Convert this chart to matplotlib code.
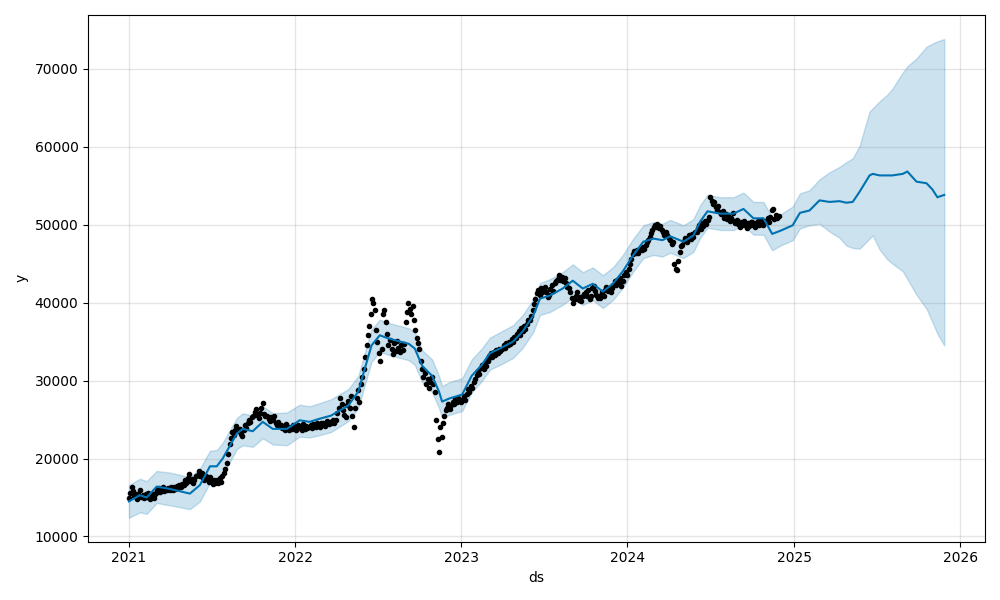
import pandas as pd
import numpy as np
import matplotlib
matplotlib.use("Agg")
import matplotlib.pyplot as plt

# observed points: ten readings per month (every 3 days from the 1st), Jan 2021 - Nov 2024
obs_months = pd.date_range("2021-01-01", "2024-11-01", freq="MS")
obs_days = [0, 3, 6, 9, 12, 15, 18, 21, 24, 27]
obs_y = [
    # 2021
    15000, 15600, 16300, 15800, 15200, 15500, 14800, 15400, 15900, 15100,
    15300, 14900, 15400, 15100, 15600, 14800, 15200, 15500, 15000, 15400,
    15600, 15900, 16200, 15700, 16000, 16300, 15800, 16100, 15900, 16200,
    16000, 16400, 15900, 16300, 16100, 16500, 16200, 16600, 16300, 16700,
    16600, 17200, 16900, 17500, 18000, 17100, 17400, 16800, 17300, 17700,
    17900, 18400, 17700, 18100, 17500, 17200, 17800, 17400, 17000, 17600,
    17100, 16700, 17300, 16900, 17200, 16800, 17500, 17000, 17700, 18200,
    18600, 19400, 20600, 21800, 22600, 23400, 23000, 23700, 24200, 23500,
    23800, 23200, 22900, 23600, 24300, 23900, 24500, 25000, 24700, 25300,
    25500, 25900, 26300, 25600, 25200, 25800, 26500, 27100, 25700, 25400,
    25500, 25100, 24800, 25300, 24900, 25400, 24600, 24300, 24700, 24200,
    24300, 23900, 24200, 23700, 24400, 24000, 23600, 24100, 23800, 24300,
    # 2022
    24000, 23600, 24300, 23900, 24100, 23700, 24400, 23800, 24200, 23900,
    24100, 24300, 23900, 24400, 24200, 24000, 24500, 24300, 24100, 24600,
    24300, 24600, 24200, 24500, 24800, 24400, 24700, 24500, 25000, 24600,
    25000, 25800, 26500, 27800, 27000, 26200, 25600, 25300, 26800, 27400,
    26500, 28000, 25500, 24000, 26500, 27800, 28800, 27200, 29500, 30500,
    31500, 33000, 34500, 35800, 37000, 38500, 40500, 40000, 39000, 36500,
    35000, 33500, 32500, 34000, 38500, 39000, 37500, 36000, 34500, 35200,
    34000, 33400, 34800, 33800, 35100, 34200, 33600, 34600, 33900, 34700,
    37500, 38800, 40000, 39200, 38500, 39500, 37800, 36500, 35500, 34800,
    34000, 32500, 31500, 30500, 31000, 29500, 30200, 29000, 29800, 30400,
    29500, 28500, 25000, 22500, 20800, 24000, 22800, 24500, 25500, 26200,
    26500, 27000, 26400, 26800, 27300, 27000, 27600, 27200, 27800, 27400,
    # 2023
    27200, 27600, 28000, 27500, 28300, 28900, 28500, 29300, 29000, 29800,
    30200, 30700, 31200, 30900, 31600, 32000, 31500, 32300, 31800, 32500,
    32600, 33100, 33500, 33000, 33700, 33300, 33900, 33500, 34100, 33800,
    34000, 34500, 34200, 34800, 34500, 35000, 34700, 35300, 35000, 35600,
    35500, 36000, 36400, 35900, 36700, 36300, 37000, 36600, 37300, 37800,
    37800, 38300, 39000, 39800, 40500, 41200, 41600, 41000, 41800, 41300,
    41500, 42000, 41300, 40700, 41000, 41700, 42200, 41500, 42500, 42800,
    43000, 43500, 42900, 43300, 42700, 43100, 42500, 42000, 41800, 41300,
    40600, 40000, 40400, 40900, 41400, 40300, 40700, 40200, 40800, 41100,
    41300, 40900, 41600, 40400, 40800, 41900, 42100, 41500, 41000, 40600,
    40600, 41000, 41300, 40800, 41600, 42000, 41500, 41900, 41400, 41800,
    42200, 42700, 42300, 42900, 42500, 43200, 42100, 42800, 43500, 43900,
    # 2024
    43500, 44300, 45000, 45600, 46200, 46600, 46300, 46800, 46400, 46900,
    46700, 47100, 46900, 47400, 47700, 48000, 48400, 48900, 49300, 49700,
    50000, 49700, 50100, 49500, 49800, 49300, 49000, 48700, 49100, 48600,
    48300, 48000, 47500, 47800, 45000, 44300, 44200, 45300, 46500, 47200,
    47400, 47900, 48300, 47700, 48100, 48600, 48200, 48800, 48400, 49000,
    49100, 49500, 49900, 49400, 50200, 49800, 50400, 50100, 50600, 51000,
    53500, 53000, 52600, 52900, 52200, 51900, 52400, 51600, 51300, 51700,
    50900, 51300, 50700, 51100, 50400, 50800, 51500, 50500, 50200, 50600,
    50100, 49700, 50300, 49900, 50400, 50000, 49600, 50200, 49800, 50300,
    50300, 50000, 49700, 50200, 50500, 49900, 50100, 50600, 50000, 50300,
    50400, 50800, 50300, 51000, 51900, 52000, 50700, 51200, 50900, 51100,
]

# forecast knots
fc_ds = [
    "2021-01-01", "2021-01-25", "2021-02-09", "2021-03-03", "2021-04-01", "2021-05-15",
    "2021-06-06", "2021-06-28", "2021-07-13", "2021-07-26", "2021-08-26", "2021-09-08",
    "2021-09-30", "2021-10-22", "2021-11-13", "2021-12-14", "2022-01-11", "2022-02-02",
    "2022-02-24", "2022-03-21", "2022-04-28", "2022-05-20", "2022-06-03", "2022-06-18",
    "2022-07-06", "2022-07-25", "2022-09-08", "2022-09-21", "2022-10-07", "2022-10-29",
    "2022-11-13", "2022-11-20", "2022-12-06", "2023-01-03", "2023-01-24", "2023-02-15",
    "2023-03-05", "2023-03-27", "2023-04-25", "2023-05-16", "2023-06-08", "2023-06-23",
    "2023-07-15", "2023-08-12", "2023-09-03", "2023-09-25", "2023-10-17", "2023-11-08",
    "2023-11-30", "2023-12-22", "2024-01-13", "2024-02-05", "2024-02-27", "2024-03-18",
    "2024-04-04", "2024-05-03", "2024-05-25", "2024-06-09", "2024-06-25", "2024-07-23",
    "2024-08-21", "2024-09-12", "2024-10-04", "2024-10-26", "2024-11-14", "2024-12-02",
    "2024-12-29", "2025-01-14", "2025-02-04", "2025-02-26", "2025-03-20", "2025-04-11",
    "2025-04-26", "2025-05-10", "2025-05-25", "2025-06-16", "2025-06-23", "2025-07-08",
    "2025-07-24", "2025-08-05", "2025-08-28", "2025-09-07", "2025-09-27", "2025-10-19",
    "2025-11-01", "2025-11-12", "2025-11-27",
]
yhat = [
    14500, 15300, 15000, 16400, 16100, 15500,
    16600, 19000, 19000, 20000, 23200, 23800,
    23500, 24700, 23800, 23800, 24900, 24700,
    25100, 25500, 26800, 28600, 31500, 34500,
    35800, 35400, 34700, 34100, 31900, 30600,
    28600, 27300, 27700, 28200, 30600, 32000,
    33500, 34100, 35000, 36300, 38300, 40500,
    40900, 41800, 42800, 41800, 42400, 41400,
    42400, 44000, 46000, 47800, 48200, 48000,
    48500, 47800, 48600, 50400, 51700, 51400,
    51400, 52000, 50800, 50800, 48800, 49200,
    49900, 51500, 51800, 53100, 52900, 53000,
    52800, 52900, 54200, 56300, 56500, 56300,
    56300, 56300, 56500, 56800, 55500, 55300,
    54500, 53500, 53800,
]
yhat_lower = [
    12400, 13100, 12900, 14300, 14000, 13500,
    14500, 16900, 17000, 17900, 21200, 21700,
    21500, 22600, 21800, 21700, 22800, 22700,
    23000, 23400, 24800, 26500, 29400, 32400,
    33700, 33300, 32600, 32000, 29800, 28500,
    26500, 25200, 25600, 26100, 28500, 29900,
    31400, 32000, 32900, 34200, 36200, 38400,
    38800, 39700, 40700, 39700, 40300, 39300,
    40300, 41900, 43900, 45700, 46100, 45900,
    46400, 45700, 46500, 48300, 49600, 49300,
    49300, 49900, 48700, 48700, 46700, 47300,
    48000, 49500, 49900, 50100, 49100, 48300,
    47300, 47000, 46900, 48200, 48600, 46800,
    45600, 45000, 44000, 43000, 41000, 39200,
    37500, 36000, 34500,
]
yhat_upper = [
    16600, 17400, 17100, 18400, 18200, 17600,
    18700, 21000, 21100, 22000, 25200, 25800,
    25500, 26700, 25800, 25900, 26900, 26700,
    27100, 27600, 28900, 30600, 33500, 36600,
    37800, 37400, 36700, 36200, 33900, 32700,
    30600, 29300, 29800, 30300, 32700, 34100,
    35500, 36200, 37100, 38400, 40400, 42500,
    43000, 43900, 44900, 43900, 44500, 43500,
    44500, 46100, 48100, 49900, 50300, 50100,
    50600, 49900, 50700, 52500, 53800, 53500,
    53500, 54100, 52900, 52900, 50900, 51300,
    52300, 54000, 54400, 55800, 56700, 57400,
    58000, 58500, 60100, 64500, 64900, 65800,
    66600, 67400, 69500, 70300, 71300, 72800,
    73200, 73500, 73800,
]

obs_ds = [m + pd.Timedelta(days=d) for m in obs_months for d in obs_days]
fc_t = pd.to_datetime(fc_ds)

fig = plt.figure(facecolor="w", figsize=(10, 6))
ax = fig.add_subplot(111)
ax.plot(obs_ds, obs_y, "k.", label="Observed data points")
ax.plot(fc_t, yhat, ls="-", c="#0072B2", label="Forecast")
ax.fill_between(fc_t, yhat_lower, yhat_upper, color="#0072B2", alpha=0.2)
ax.grid(True, which="major", c="gray", ls="-", lw=1, alpha=0.2)
ax.set_xlabel("ds")
ax.set_ylabel("y")
fig.tight_layout()
fig.savefig("out.png", dpi=100)
